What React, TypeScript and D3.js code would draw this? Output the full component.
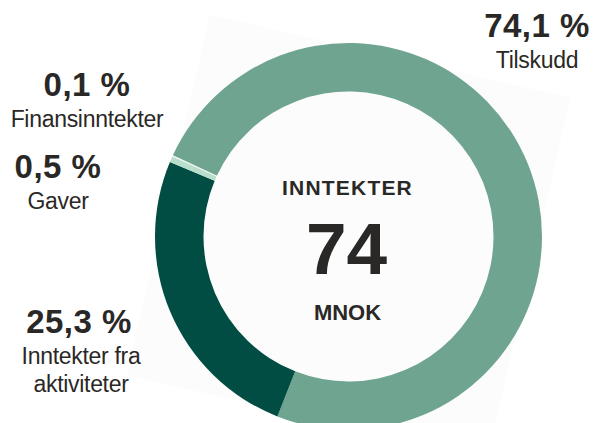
import React from "react";
import * as d3 from "d3";

const categories = ["Tilskudd", "Inntekter fra aktiviteter", "Gaver", "Finansinntekter"];
const values = [74.1, 25.3, 0.5, 0.1];
const percentLabels = ["74,1 %", "25,3 %", "0,5 %", "0,1 %"];
const nameLines = [["Tilskudd"], ["Inntekter fra", "aktiviteter"], ["Gaver"], ["Finansinntekter"]];
const colors = ["#6fa590", "#024d43", "#b8dfcb", "#e4f2eb"];
const centerTitle = "INNTEKTER";
const centerValue = "74";
const centerUnit = "MNOK";

const W = 595;
const H = 423;
const cx = 348.5;
const cy = 236.5;
const outerR = 193.5;
const innerR = 145;

// label anchor positions (x center, baseline of percent)
const labelPos = [
  { x: 537, y: 37 },
  { x: 79, y: 333 },
  { x: 58, y: 178 },
  { x: 87, y: 96 },
];

export default function App() {
  const startDeg = -65.2;
  const pie = d3
    .pie<number>()
    .sort(null)
    .startAngle((startDeg * Math.PI) / 180)
    .endAngle(((startDeg + 360) * Math.PI) / 180);
  const arcs = pie(values);
  const arc = d3.arc<d3.PieArcDatum<number>>().innerRadius(innerR).outerRadius(outerR);
  const font = "'Liberation Sans', Arial, Helvetica, sans-serif";
  const textColor = "#2a2826";

  return (
    <svg
      width={W}
      height={H}
      viewBox={`0 0 ${W} ${H}`}
      style={{ position: "absolute", left: 0, top: 0, background: "#ffffff" }}
    >
      <rect
        x={cx - 185}
        y={cy - 185}
        width={370}
        height={370}
        fill="#fcfcfc"
        transform={`rotate(13 ${cx} ${cy})`}
      />
      <g transform={`translate(${cx},${cy})`}>
        {arcs.map((a, i) => (
          <path key={categories[i]} d={arc(a) || ""} fill={colors[i]} />
        ))}
      </g>
      <g fontFamily={font} fill={textColor} textAnchor="middle">
        <text x={cx - 1} y={195} fontSize={21} fontWeight={700} letterSpacing={1.2}>
          {centerTitle}
        </text>
        <text x={cx - 2} y={274} fontSize={73} fontWeight={700}>
          {centerValue}
        </text>
        <text x={cx - 1} y={320} fontSize={22} fontWeight={700}>
          {centerUnit}
        </text>
        {labelPos.map((p, i) => (
          <g key={categories[i]}>
            <text x={p.x} y={p.y} fontSize={33} fontWeight={700} letterSpacing={0.5}>
              {percentLabels[i]}
            </text>
            {nameLines[i].map((line, j) => (
              <text
                key={line}
                x={p.x + (i === 1 ? 2 : 0)}
                y={p.y + 31 + j * 28}
                fontSize={23}
                fontWeight={400}
                letterSpacing={-0.3}
              >
                {line}
              </text>
            ))}
          </g>
        ))}
      </g>
    </svg>
  );
}
